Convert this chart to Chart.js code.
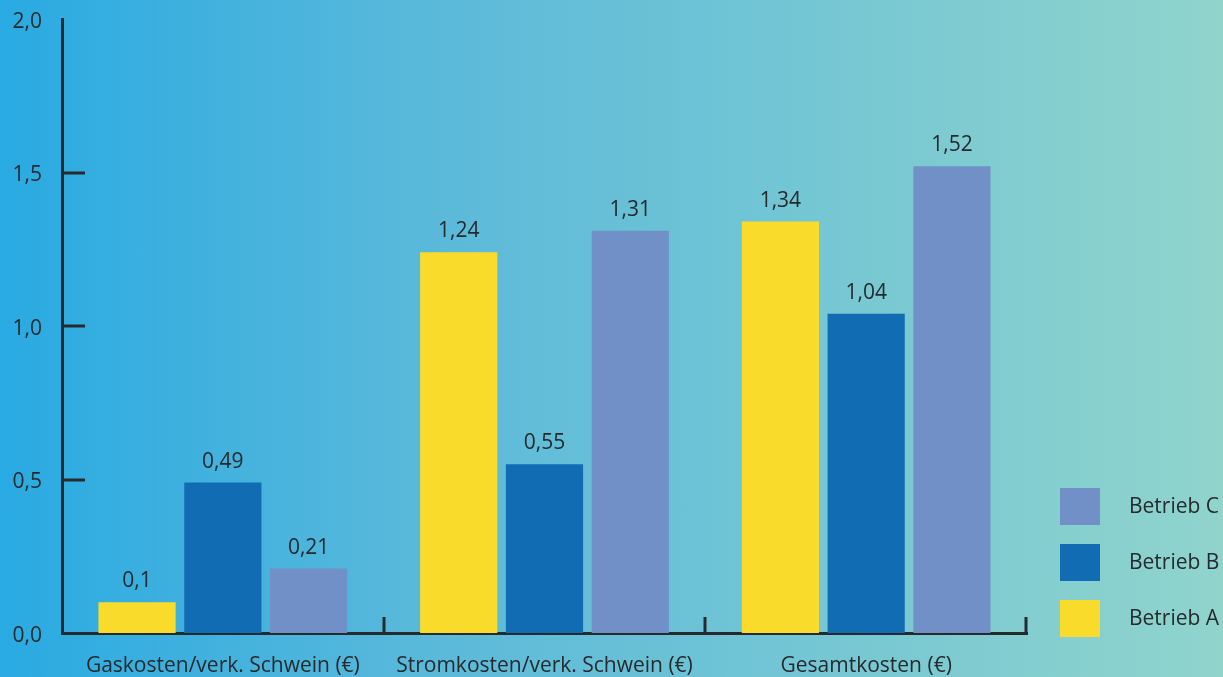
<!DOCTYPE html>
<html>
<head>
<meta charset="utf-8">
<script src="https://cdn.jsdelivr.net/npm/chart.js@4"></script>
<style>
  html, body { margin: 0; padding: 0; }
  body {
    width: 1223px; height: 677px; overflow: hidden;
    background: linear-gradient(to right, #29aae2 0%, #5ab9da 35%, #73c6d4 65%, #90d4cc 100%);
  }
</style>
</head>
<body>
<canvas id="cost-chart" width="1223" height="677"></canvas>
<script>
// categories and values per farm
const categories = ['Gaskosten/verk. Schwein (€)', 'Stromkosten/verk. Schwein (€)', 'Gesamtkosten (€)'];
const betriebA = [0.1, 1.24, 1.34];
const betriebB = [0.49, 0.55, 1.04];
const betriebC = [0.21, 1.31, 1.52];
const yTicks = [0, 0.5, 1.0, 1.5, 2.0];

const inkColor = '#262a2c';
const fontFamily = '"Open Sans", sans-serif';
const fontSize = 21;

const toComma = v => String(v).replace('.', ',');

// small tick marks drawn inside the plot, value labels and legend
const decorations = {
    id: 'decorations',
    afterDatasetsDraw(chart) {
        const ctx = chart.ctx;
        const area = chart.chartArea;
        const x = chart.scales.x;
        const y = chart.scales.y;
        ctx.save();
        ctx.strokeStyle = inkColor;
        ctx.lineWidth = 3;
        // y ticks pointing right
        yTicks.forEach(v => {
            if (v === 0 || v === 2) return;
            const py = Math.round(y.getPixelForValue(v));
            ctx.beginPath();
            ctx.moveTo(area.left, py);
            ctx.lineTo(area.left + 23, py);
            ctx.stroke();
        });
        // x ticks at category boundaries pointing up
        for (let i = 1; i <= categories.length; i++) {
            let px = Math.round(x.getPixelForValue(i - 0.5));
            if (i === categories.length) px = Math.round(area.right) - 1;
            ctx.beginPath();
            ctx.moveTo(px, area.bottom);
            ctx.lineTo(px, area.bottom - 16);
            ctx.stroke();
        }

        // value labels
        ctx.fillStyle = inkColor;
        ctx.font = fontSize + 'px ' + fontFamily;
        ctx.textAlign = 'center';
        ctx.textBaseline = 'alphabetic';
        chart.data.datasets.forEach((ds, i) => {
            chart.getDatasetMeta(i).data.forEach((bar, j) => {
                ctx.fillText(toComma(ds.data[j]), bar.x, bar.y - 15);
            });
        });

        // legend (reversed order)
        const legendX = area.right + 33;
        let legendY = 488;
        ctx.textAlign = 'left';
        ctx.textBaseline = 'middle';
        chart.data.datasets.slice().reverse().forEach(ds => {
            ctx.fillStyle = ds.backgroundColor;
            ctx.fillRect(legendX, legendY, 40, 37);
            ctx.fillStyle = inkColor;
            ctx.fillText(ds.label, legendX + 69, legendY + 19);
            legendY += 56;
        });
        ctx.restore();
    }
};

const ctx = document.getElementById('cost-chart');
new Chart(ctx, {
    type: 'bar',
    data: {
        labels: categories,
        datasets: [
            { label: 'Betrieb A', data: betriebA, backgroundColor: '#f9dc2b' },
            { label: 'Betrieb B', data: betriebB, backgroundColor: '#116cb4' },
            { label: 'Betrieb C', data: betriebC, backgroundColor: '#7190c8' }
        ]
    },
    options: {
        responsive: false,
        animation: false,
        categoryPercentage: 0.8,
        barPercentage: 0.9,
        layout: { padding: { top: 19, right: 196, left: 0, bottom: 0 } },
        plugins: {
            legend: { display: false },
            tooltip: { enabled: false }
        },
        scales: {
            x: {
                afterFit: s => { s.height = 44; s.paddingLeft = 0; s.paddingRight = 0; },
                grid: { display: false, drawTicks: false },
                border: { display: true, color: inkColor, width: 3 },
                ticks: {
                    color: inkColor,
                    padding: 20,
                    font: { family: fontFamily, size: fontSize }
                }
            },
            y: {
                min: 0,
                max: 2,
                afterFit: s => { s.width = 62; s.paddingTop = 0; s.paddingBottom = 0; },
                afterBuildTicks: s => { s.ticks = yTicks.map(v => ({ value: v })); },
                grid: { display: false, drawTicks: false },
                border: { display: true, color: inkColor, width: 3 },
                ticks: {
                    color: inkColor,
                    padding: 20,
                    labelOffset: 3,
                    font: { family: fontFamily, size: fontSize },
                    callback: v => v.toFixed(1).replace('.', ',')
                }
            }
        }
    },
    plugins: [decorations]
});
</script>
</body>
</html>
